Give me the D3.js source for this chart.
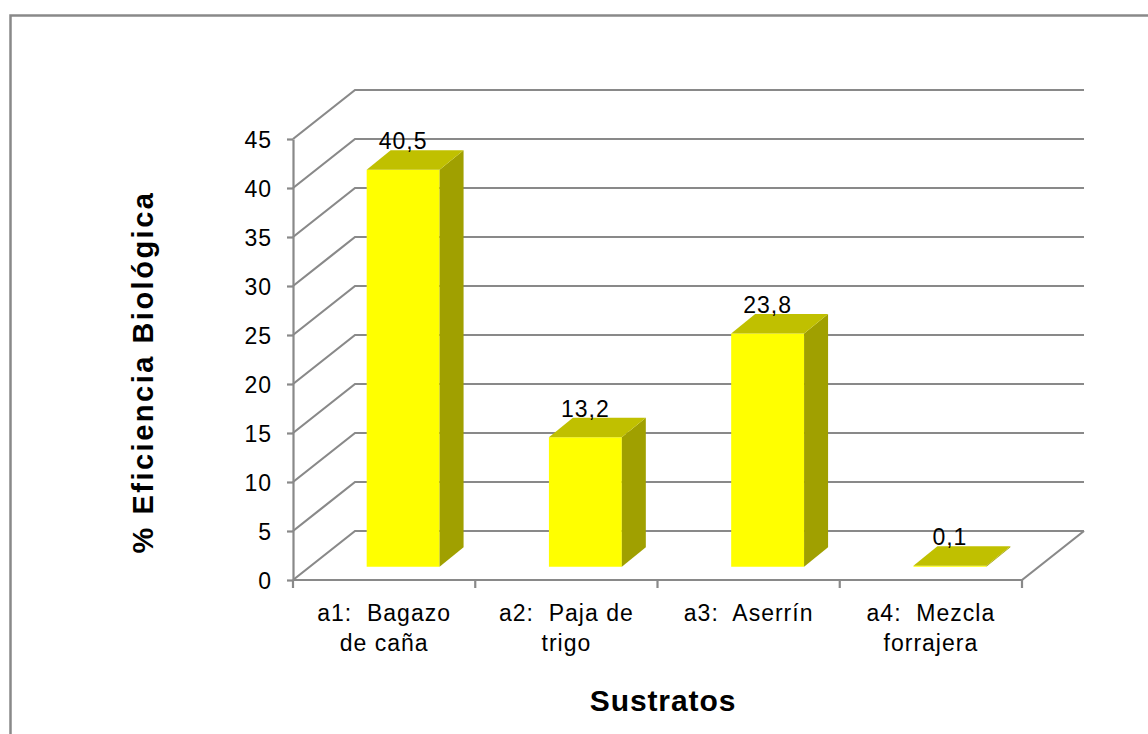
<!DOCTYPE html>
<html>
<head>
<meta charset="utf-8">
<script src="https://cdn.jsdelivr.net/npm/d3@7"></script>
<style>
  html, body { margin: 0; padding: 0; background: #fff; }
  svg { display: block; font-family: "Liberation Sans", Arial, sans-serif; }
  text { white-space: pre; }
</style>
</head>
<body>
<svg id="chart" width="1148" height="734"></svg>
<script>
// Biological efficiency per substrate
const categories = ["a1", "a2", "a3", "a4"];
const categoryLines = [
  ["a1:  Bagazo", "de caña"],
  ["a2:  Paja de", "trigo"],
  ["a3:  Aserrín"],
  ["a4:  Mezcla", "forrajera"]
];
const values = [40.5, 13.2, 23.8, 0.1];
const yTicks = [0, 5, 10, 15, 20, 25, 30, 35, 40, 45];
const yTitle = "% Eficiencia Biológica";
const xTitle = "Sustratos";

const esFormat = d3.formatLocale({ decimal: ",", thousands: ".", grouping: [3], currency: ["", ""] }).format(".1f");

const svg = d3.select("#chart");
const W = 1148, H = 734;

// plot frame (front plane) and 3D offsets
const plotL = 293, plotR = 1022, plotB = 580, plotT = 139;
const wallDx = 62, wallDy = 49;       // depth of the back wall
const barOffX = 19, barOffY = 13.3;   // bar front face inside the depth
const barDx = 24, barDy = 19.5;       // bar depth

const y = d3.scaleLinear().domain([0, 45]).range([plotB, plotT]);
const xCat = d3.scaleBand().domain(categories).range([plotL, plotR]);
const xBar = d3.scaleBand().domain(categories).range([plotL, plotR])
  .paddingInner(0.6).paddingOuter(0.3);

const gridColor = "#898989";

// outer chart border
svg.append("path")
  .attr("d", `M10.5,${H} V15.5 H${W}`)
  .attr("fill", "none").attr("stroke", gridColor).attr("stroke-width", 2.5);

// floor
svg.append("path")
  .attr("d", `M${plotL},${y(0)} L${plotL + wallDx},${y(0) - wallDy} L${plotR + wallDx},${y(0) - wallDy} L${plotR},${y(0)} Z`)
  .attr("fill", "#fff").attr("stroke", "none");

// gridlines: side wall diagonal + back wall horizontal
const grid = svg.append("g").attr("fill", "none").attr("stroke", gridColor).attr("stroke-width", 2.2);
grid.selectAll("path.grid")
  .data(yTicks)
  .join("path")
  .attr("class", "grid")
  .attr("d", d => `M${plotL},${y(d)} L${plotL + wallDx},${y(d) - wallDy} H${plotR + wallDx}`);

// floor front and right edges
grid.append("path")
  .attr("d", `M${plotL},${y(0)} H${plotR} L${plotR + wallDx},${y(0) - wallDy}`);

// category boundary ticks
const bounds = categories.map(c => xCat(c)).concat([xCat(categories[categories.length - 1]) + xCat.bandwidth()]);
grid.selectAll("line.ctick")
  .data(bounds)
  .join("line")
  .attr("class", "ctick")
  .attr("x1", d => d).attr("x2", d => d)
  .attr("y1", y(0)).attr("y2", y(0) + 8);

// y axis
const yAxis = d3.axisLeft(y).tickValues(yTicks).tickSize(6).tickSizeOuter(0).tickPadding(15)
  .tickFormat(d3.format("d"));
const ga = svg.append("g").attr("transform", `translate(${plotL},0)`).call(yAxis);
ga.select(".domain").attr("stroke", gridColor).attr("stroke-width", 2.2);
ga.selectAll(".tick line").attr("stroke", gridColor).attr("stroke-width", 2.2);
ga.selectAll(".tick text")
  .attr("font-size", 23).attr("fill", "#000").attr("letter-spacing", 1)
  .attr("font-family", "Liberation Sans, Arial, sans-serif")
  .attr("dy", "0.35em");

// bars
const bars = svg.append("g");
const barData = categories.map((c, i) => ({ c, v: values[i] }));
const bx0 = d => xBar(d.c) + barOffX;
const bx1 = d => xBar(d.c) + xBar.bandwidth() + barOffX;
const byTop = d => y(d.v) - barOffY;
const byBot = () => y(0) - barOffY;

bars.selectAll("path.front").data(barData).join("path")
  .attr("class", "front")
  .attr("fill", "#ffff00")
  .attr("d", d => `M${bx0(d)},${byBot()} V${byTop(d)} H${bx1(d)} V${byBot()} Z`);

bars.selectAll("path.side").data(barData).join("path")
  .attr("class", "side")
  .attr("fill", "#a0a000")
  .attr("d", d => `M${bx1(d)},${byBot()} V${byTop(d)} L${bx1(d) + barDx},${byTop(d) - barDy} V${byBot() - barDy} Z`);

bars.selectAll("path.topface").data(barData).join("path")
  .attr("class", "topface")
  .attr("fill", "#c0c000")
  .attr("d", d => `M${bx0(d)},${byTop(d)} L${bx0(d) + barDx},${byTop(d) - barDy} H${bx1(d) + barDx} L${bx1(d)},${byTop(d)} Z`);

// value labels
bars.selectAll("text.val").data(barData).join("text")
  .attr("class", "val")
  .attr("x", d => (bx0(d) + bx1(d)) / 2)
  .attr("y", d => byTop(d) - barDy - 1)
  .attr("text-anchor", "middle")
  .attr("font-size", 23).attr("letter-spacing", 1).attr("fill", "#000")
  .text(d => esFormat(d.v));

// category labels
const cl = svg.append("g");
categories.forEach((c, i) => {
  const cx = xCat(c) + xCat.bandwidth() / 2;
  const t = cl.append("text")
    .attr("x", cx)
    .attr("y", 621)
    .attr("text-anchor", "middle")
    .attr("font-size", 23).attr("letter-spacing", 1).attr("fill", "#000");
  categoryLines[i].forEach((line, j) => {
    t.append("tspan")
      .attr("x", cx)
      .attr("dy", j === 0 ? 0 : 30)
      .text(line);
  });
});

// axis titles
svg.append("text")
  .attr("transform", `translate(153,372) rotate(-90)`)
  .attr("text-anchor", "middle")
  .attr("font-size", 29).attr("font-weight", "bold").attr("letter-spacing", 2.5).attr("fill", "#000")
  .text(yTitle);

svg.append("text")
  .attr("x", 663).attr("y", 711)
  .attr("text-anchor", "middle")
  .attr("font-size", 30).attr("font-weight", "bold").attr("letter-spacing", 0.9).attr("fill", "#000")
  .text(xTitle);
</script>
</body>
</html>
